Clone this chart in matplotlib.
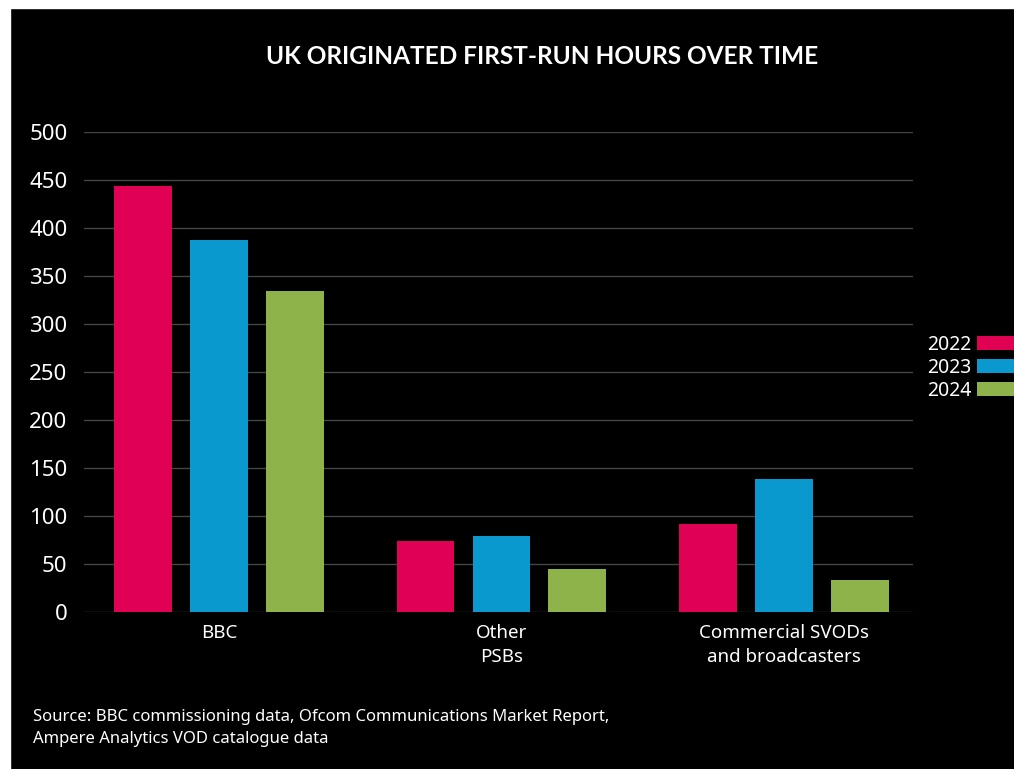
import matplotlib
matplotlib.use("Agg")
import matplotlib.pyplot as plt
from matplotlib.patches import Patch, Rectangle
import numpy as np

plt.rcParams['font.family'] = ['Noto Sans', 'DejaVu Sans']

categories = ["BBC", "Other\nPSBs", "Commercial SVODs\nand broadcasters"]
years = ["2022", "2023", "2024"]
values_2022 = [444, 74, 92]
values_2023 = [388, 79, 139]
values_2024 = [334, 45, 33]
series = [values_2022, values_2023, values_2024]
colors = ["#E00054", "#0A99CE", "#8DB34A"]
yticks = [0, 50, 100, 150, 200, 250, 300, 350, 400, 450, 500]

W, H = 1014, 769
fig = plt.figure(figsize=(W / 100, H / 100), dpi=100, facecolor="black")
fig.patch.set_edgecolor("black")
fig.patch.set_linewidth(0)
# white border strips at top and left
fig.patches.append(Rectangle((0, 1 - 8 / H), 1, 8 / H, transform=fig.transFigure, color="white", zorder=0))
fig.patches.append(Rectangle((0, 0), 10 / W, 1, transform=fig.transFigure, color="white", zorder=0))

left, right = 84 / W, 913 / W
bottom, top = 1 - 612 / H, 1 - 132 / H
ax = fig.add_axes([left, bottom, right - left, top - bottom], facecolor="black")

x = np.arange(len(categories))
step = 0.269
width = 0.205
for i, (vals, col, yr) in enumerate(zip(series, colors, years)):
    ax.bar(x + (i - 1) * step, vals, width=width, color=col, label=yr, zorder=3)

ax.set_xlim(-0.478, 2.457)
ax.set_ylim(0, 500)
ax.set_yticks(yticks)
ax.set_yticklabels([str(v) for v in yticks], fontsize=16, color="white")
ax.set_xticks(x)
ax.set_xticklabels(categories, fontsize=13.5, color="white", linespacing=1.4)
ax.tick_params(axis="both", length=0)
ax.tick_params(axis="y", pad=12)
ax.tick_params(axis="x", pad=9)
ax.grid(axis="y", color="#444444", linewidth=1, zorder=0)
ax.set_axisbelow(True)
for s in ax.spines.values():
    s.set_visible(False)

handles = [Patch(facecolor=c, label=y) for c, y in zip(colors, years)]
fig.legend(handles=handles, loc="center left", bbox_to_anchor=(927 / W, 1 - 368 / H),
           frameon=False, markerfirst=False, fontsize=14, labelcolor="white",
           handlelength=2.6, handleheight=0.72, handletextpad=0.3, labelspacing=0.15,
           borderpad=0, borderaxespad=0)

fig.text(542 / W, 1 - 57 / H, "UK ORIGINATED FIRST-RUN HOURS OVER TIME", ha="center", va="center",
         fontsize=17.6, fontweight="bold", color="white", family=["Lato", "DejaVu Sans"])
fig.text(33 / W, 1 - 728 / H, "Source: BBC commissioning data, Ofcom Communications Market Report,\nAmpere Analytics VOD catalogue data",
         ha="left", va="center", fontsize=12, color="white", linespacing=1.5)

fig.savefig("out.png", dpi=100, facecolor="black", edgecolor="black")
